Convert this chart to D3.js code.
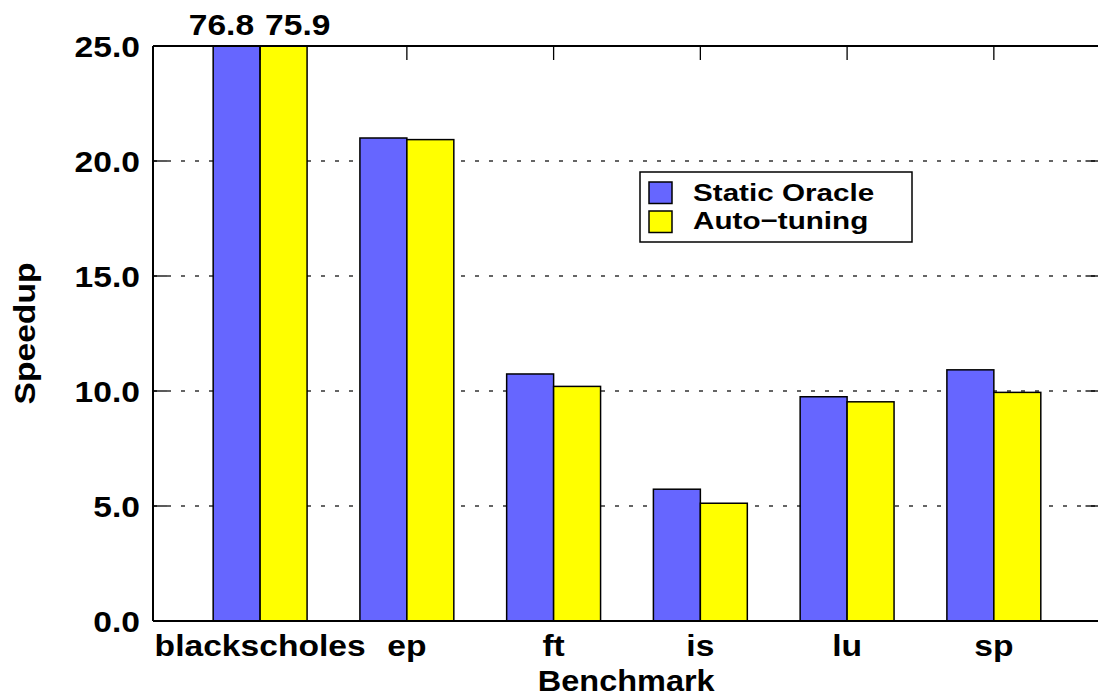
<!DOCTYPE html>
<html>
<head>
<meta charset="utf-8">
<script src="https://cdn.jsdelivr.net/npm/d3@7"></script>
<style>
  html, body { margin: 0; padding: 0; background: #fff; }
  svg text { font-family: "Liberation Sans", Arial, Helvetica, sans-serif; font-weight: bold; fill: #000; }
</style>
</head>
<body>
<svg id="chart" width="1098" height="697"></svg>
<script>
const categories = ["blackscholes", "ep", "ft", "is", "lu", "sp"];
const seriesNames = ["Static Oracle", "Auto\u2212tuning"];
const staticOracle = [76.8, 21.0, 10.74, 5.73, 9.75, 10.92];
const autoTuning  = [75.9, 20.93, 10.2, 5.12, 9.53, 9.94];
const yTicks = [0, 5, 10, 15, 20, 25];
const yTickLabels = ["0.0", "5.0", "10.0", "15.0", "20.0", "25.0"];
const colors = ["#6666ff", "#ffff00"];

const svg = d3.select("#chart");
const pLeft = 153, pRight = 1099.5, pTop = 46, pBottom = 621;
const yMax = 25;
const stretch = 1.12;

const x = d3.scaleLinear().domain([-0.73, 5.72]).range([pLeft, pRight]);
const y = d3.scaleLinear().domain([0, yMax]).range([pBottom, pTop]);
const barW = 0.32;

function addText(g, tx, ty, str, size, anchor, k, rot) {
  return g.append("text")
    .attr("transform", `translate(${tx},${ty})${rot ? " rotate(" + rot + ")" : ""} scale(${k},1)`)
    .attr("text-anchor", anchor)
    .attr("font-size", size)
    .text(str);
}

// grid lines
svg.append("g").selectAll("line")
  .data(yTicks.filter(t => t > 0 && t < yMax))
  .join("line")
  .attr("x1", pLeft).attr("x2", pRight)
  .attr("y1", d => y(d)).attr("y2", d => y(d))
  .attr("stroke", "#333").attr("stroke-width", 1.3)
  .attr("stroke-dasharray", "4,10");

// bars
const series = [staticOracle, autoTuning];
series.forEach((vals, s) => {
  svg.append("g").selectAll("rect")
    .data(vals)
    .join("rect")
    .attr("x", (d, i) => x(i - barW + s * barW))
    .attr("width", x(barW) - x(0))
    .attr("y", d => y(Math.min(d, yMax)))
    .attr("height", d => y(0) - y(Math.min(d, yMax)))
    .attr("fill", colors[s])
    .attr("stroke", "#000").attr("stroke-width", 1.5);
});

// axes frame: left, bottom, top
svg.append("line").attr("x1", pLeft).attr("x2", pLeft).attr("y1", pTop).attr("y2", pBottom)
  .attr("stroke", "#000").attr("stroke-width", 2);
svg.append("line").attr("x1", pLeft).attr("x2", pRight).attr("y1", pBottom).attr("y2", pBottom)
  .attr("stroke", "#000").attr("stroke-width", 2);
svg.append("line").attr("x1", pLeft).attr("x2", pRight).attr("y1", pTop).attr("y2", pTop)
  .attr("stroke", "#000").attr("stroke-width", 2);

// ticks (inward)
const tg = svg.append("g");
yTicks.filter(t => t > 0 && t < yMax).forEach(t => {
  tg.append("line").attr("x1", pLeft).attr("x2", pLeft + 14).attr("y1", y(t)).attr("y2", y(t))
    .attr("stroke", "#000").attr("stroke-width", 1.3);
  tg.append("line").attr("x1", pRight - 14).attr("x2", pRight).attr("y1", y(t)).attr("y2", y(t))
    .attr("stroke", "#000").attr("stroke-width", 1.3);
});
categories.forEach((c, i) => {
  tg.append("line").attr("x1", x(i)).attr("x2", x(i)).attr("y1", pTop).attr("y2", pTop + 14)
    .attr("stroke", "#000").attr("stroke-width", 1.3);
});

// y tick labels
const ylab = svg.append("g");
yTicks.forEach((t, i) => addText(ylab, 140, y(t) + 11, yTickLabels[i], 30, "end", stretch));

// x tick labels
const xlab = svg.append("g");
categories.forEach((c, i) => addText(xlab, x(i), 656, c, 30, "middle", stretch));

// axis titles
addText(svg, (pLeft + pRight) / 2, 691, "Benchmark", 29, "middle", stretch);
addText(svg, 35, (pTop + pBottom) / 2, "Speedup", 30, "middle", stretch, -90);

// overflow value labels
addText(svg, x(0) - 6, 35, staticOracle[0].toFixed(1), 30, "end", stretch);
addText(svg, x(0) + 5, 35, autoTuning[0].toFixed(1), 30, "start", stretch);

// legend
const lg = svg.append("g");
lg.append("rect").attr("x", 640).attr("y", 172).attr("width", 272).attr("height", 70)
  .attr("fill", "#fff").attr("stroke", "#000").attr("stroke-width", 1.5);
seriesNames.forEach((n, i) => {
  lg.append("rect").attr("x", 649).attr("y", 182 + i * 29).attr("width", 23).attr("height", 21.5)
    .attr("fill", colors[i]).attr("stroke", "#000").attr("stroke-width", 1.5);
  addText(lg, 693, 201 + i * 28, n, 24.5, "start", 1.21);
});
</script>
</body>
</html>
